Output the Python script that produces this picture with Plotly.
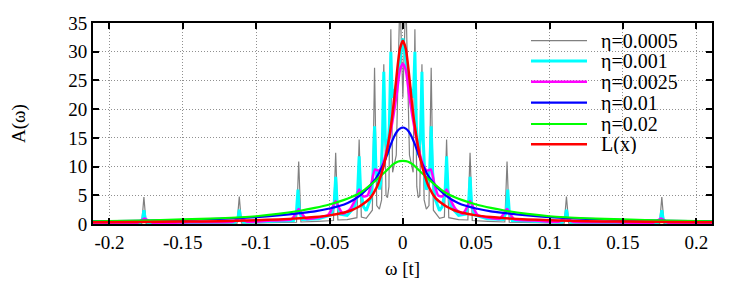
import plotly.graph_objects as go

# spectral function A(w), one array pair per broadening
w_0005 = [-0.2112, -0.178, -0.1765, -0.175, -0.113, -0.1115, -0.110, -0.0725, -0.071, -0.0695,
          -0.058, -0.0473, -0.0458, -0.0443, -0.038, -0.0313, -0.0298, -0.0283, -0.025,
          -0.0208, -0.0193, -0.0178, -0.016, -0.0145, -0.013, -0.0115, -0.0105, -0.0095,
          -0.0082, -0.007, -0.0045, -0.002, 0.0, 0.002, 0.0045, 0.007, 0.0082, 0.0095, 0.0105,
          0.0115, 0.013, 0.0145, 0.016, 0.0178, 0.0193, 0.0208, 0.025, 0.0283, 0.0298, 0.0313,
          0.038, 0.0443, 0.0458, 0.0473, 0.058, 0.0695, 0.071, 0.0725, 0.110, 0.1115, 0.113,
          0.175, 0.1765, 0.178, 0.2107]
A_0005 = [0.05, 0.1, 4.7, 0.1, 0.15, 4.8, 0.15, 0.3, 10.9, 0.35,
          0.45, 0.6, 12.4, 0.7, 0.75, 1.1, 14.7, 1.2, 1.0,
          2.4, 27.2, 3.2, 2.6, 4.2, 27.8, 5.0, 4.6, 6.5,
          33.9, 9.0, 12.0, 40.0, 22.0, 40.0, 12.0, 9.0, 33.9, 6.5, 4.6,
          5.0, 27.8, 4.2, 2.6, 3.2, 27.2, 2.4, 1.0, 1.2, 14.7, 1.1,
          0.75, 0.7, 12.4, 0.6, 0.45, 0.35, 10.9, 0.3, 0.15, 4.8, 0.15,
          0.1, 4.7, 0.1, 0.05]

w_001 = [-0.2112, -0.1795, -0.1775, -0.1765, -0.1755, -0.1735, -0.1145, -0.1125, -0.1115, -0.1105,
         -0.1085, -0.0745, -0.0725, -0.0715, -0.0705, -0.0685, -0.0575, -0.0488, -0.0468, -0.0458,
         -0.0448, -0.0428, -0.038, -0.0328, -0.0308, -0.0298, -0.0288, -0.0268, -0.025, -0.0218,
         -0.0203, -0.0193, -0.0183, -0.0165, -0.016, -0.0152, -0.014, -0.013, -0.012, -0.0105,
         -0.0092, -0.0082, -0.0072, -0.0045, 0.0, 0.0045, 0.0072, 0.0082, 0.0092, 0.0105,
         0.012, 0.013, 0.014, 0.0152, 0.016, 0.0165, 0.0183, 0.0193, 0.0203, 0.0218,
         0.025, 0.0268, 0.0288, 0.0298, 0.0308, 0.0328, 0.038, 0.0428, 0.0448, 0.0458,
         0.0468, 0.0488, 0.0575, 0.0685, 0.0705, 0.0715, 0.0725, 0.0745, 0.1085, 0.1105,
         0.1115, 0.1125, 0.1145, 0.1735, 0.1755, 0.1765, 0.1775, 0.1795, 0.2107]
A_001 = [0.08, 0.15, 0.7, 2.4, 0.7, 0.15, 0.3, 0.9, 2.5, 0.9,
         0.3, 0.6, 2.2, 6.0, 2.2, 0.8, 0.9, 1.6, 3.6, 8.2,
         3.6, 1.7, 1.5, 3.0, 5.8, 11.8, 5.8, 3.0, 2.3, 4.5,
         9.0, 17.0, 9.5, 6.2, 6.0, 7.0, 14.0, 26.5, 15.0, 12.0,
         17.0, 30.0, 22.0, 24.0, 32.3, 24.0, 22.0, 30.0, 17.0, 12.0,
         15.0, 26.5, 14.0, 7.0, 6.0, 6.2, 9.5, 17.0, 9.0, 4.5,
         2.3, 3.0, 5.8, 11.8, 5.8, 3.0, 1.5, 1.7, 3.6, 8.2,
         3.6, 1.6, 0.9, 0.8, 2.2, 6.0, 2.2, 0.6, 0.3, 0.9,
         2.5, 0.9, 0.3, 0.15, 0.7, 2.4, 0.7, 0.15, 0.08]

w_0025 = [-0.2112, -0.181, -0.1785, -0.176, -0.1735, -0.171, -0.145, -0.116, -0.1135, -0.111,
          -0.1085, -0.106, -0.09, -0.076, -0.0735, -0.071, -0.0685, -0.066, -0.056, -0.0508,
          -0.0483, -0.0458, -0.0433, -0.0408, -0.036, -0.0325, -0.0298, -0.027, -0.024, -0.0215,
          -0.019, -0.0165, -0.014, -0.0105, -0.007, -0.004, -0.002, 0.0, 0.002, 0.004,
          0.007, 0.0105, 0.014, 0.0165, 0.019, 0.0215, 0.024, 0.027, 0.0298, 0.0325,
          0.036, 0.0408, 0.0433, 0.0458, 0.0483, 0.0508, 0.056, 0.066, 0.0685, 0.071,
          0.0735, 0.076, 0.09, 0.106, 0.1085, 0.111, 0.1135, 0.116, 0.145, 0.171,
          0.1735, 0.176, 0.1785, 0.181, 0.2107]
A_0025 = [0.15, 0.22, 0.6, 0.95, 0.6, 0.25, 0.3, 0.4, 0.7, 1.05,
          0.7, 0.4, 0.6, 0.8, 1.6, 2.6, 1.7, 0.9, 1.2, 1.6,
          2.7, 4.0, 2.7, 1.8, 2.6, 4.2, 6.0, 4.8, 5.0, 7.0,
          9.5, 9.3, 10.2, 13.3, 18.0, 23.0, 26.8, 27.9, 26.8, 23.0,
          18.0, 13.3, 10.2, 9.3, 9.5, 7.0, 5.0, 4.8, 6.0, 4.2,
          2.6, 1.8, 2.7, 4.0, 2.7, 1.6, 1.2, 0.9, 1.7, 2.6,
          1.6, 0.8, 0.6, 0.4, 0.7, 1.05, 0.7, 0.4, 0.3, 0.25,
          0.6, 0.95, 0.6, 0.22, 0.15]

# smooth curves share one grid
w_smooth = [-0.2112, -0.18, -0.15, -0.125, -0.1, -0.085, -0.07, -0.06, -0.05, -0.04,
            -0.035, -0.03, -0.026, -0.022, -0.018, -0.015, -0.012, -0.01, -0.008, -0.006,
            -0.004, -0.002, 0.0, 0.002, 0.004, 0.006, 0.008, 0.01, 0.012, 0.015,
            0.018, 0.022, 0.026, 0.03, 0.035, 0.04, 0.05, 0.06, 0.07, 0.085,
            0.1, 0.125, 0.15, 0.18, 0.2107]
A_01 = [0.45, 0.55, 0.7, 0.9, 1.2, 1.5, 1.9, 2.2, 2.7, 3.4,
        4.0, 4.8, 5.7, 6.8, 8.1, 9.5, 11.2, 12.6, 14.0, 15.2,
        16.1, 16.6, 16.8, 16.6, 16.1, 15.2, 14.0, 12.6, 11.2, 9.5,
        8.1, 6.8, 5.7, 4.8, 4.0, 3.4, 2.7, 2.2, 1.9, 1.5,
        1.2, 0.9, 0.7, 0.55, 0.45]
A_02 = [0.45, 0.6, 0.8, 1.0, 1.35, 1.75, 2.3, 2.8, 3.4, 4.2,
        4.7, 5.3, 6.0, 6.8, 7.7, 8.4, 9.1, 9.6, 10.1, 10.5,
        10.8, 10.95, 11.0, 10.95, 10.8, 10.5, 10.1, 9.6, 9.1, 8.4,
        7.7, 6.8, 6.0, 5.3, 4.7, 4.2, 3.4, 2.8, 2.3, 1.75,
        1.35, 1.0, 0.8, 0.6, 0.45]
A_L = [0.3, 0.35, 0.42, 0.5, 0.65, 0.8, 1.0, 1.2, 1.5, 2.0,
       2.4, 3.0, 3.7, 4.6, 6.3, 8.4, 11.3, 14.0, 17.3, 21.5,
       26.5, 30.5, 31.9, 30.5, 26.5, 21.5, 17.3, 14.0, 11.3, 8.4,
       6.3, 4.6, 3.7, 3.0, 2.4, 2.0, 1.5, 1.2, 1.0, 0.8,
       0.65, 0.5, 0.42, 0.35, 0.3]

labels = ['η=0.0005', 'η=0.001', 'η=0.0025', 'η=0.01', 'η=0.02', 'L(x)']
colors = ['#808080', '#00ffff', '#ff00ff', '#0000ff', '#00ff00', '#ff0000']
widths = [1.2, 3, 2.5, 2.2, 2.2, 2.5]

series = [(w_0005, A_0005, 'linear'), (w_001, A_001, 'linear'), (w_0025, A_0025, 'spline'),
          (w_smooth, A_01, 'spline'), (w_smooth, A_02, 'spline'), (w_smooth, A_L, 'spline')]

FONT = 'Liberation Serif, Times New Roman, DejaVu Serif, serif'

fig = go.Figure()
for (x, y, shape), name, c, lw in zip(series, labels, colors, widths):
    fig.add_trace(go.Scatter(x=x, y=y, mode='lines', name=name, showlegend=False,
                             line=dict(color=c, width=lw, shape=shape, smoothing=0.6)))

axis_style = dict(showline=True, linewidth=2, linecolor='black', mirror='ticks',
                  ticks='inside', ticklen=6, tickwidth=2, tickcolor='black',
                  showgrid=True, gridcolor='#909090', gridwidth=1, griddash='1px,2px',
                  zeroline=False, tickfont=dict(family=FONT, size=19, color='black'))

fig.update_xaxes(range=[-0.2112, 0.2107], tickvals=[-0.2, -0.15, -0.1, -0.05, 0, 0.05, 0.1, 0.15, 0.2],
                 ticktext=['-0.2', '-0.15', '-0.1', '-0.05', '0', '0.05', '0.1', '0.15', '0.2'],
                 title=dict(text='ω [t]', font=dict(family=FONT, size=19, color='black'), standoff=10),
                 **axis_style)
fig.update_yaxes(range=[0, 35], tickvals=[0, 5, 10, 15, 20, 25, 30, 35],
                 title=dict(text='A(ω)', font=dict(family=FONT, size=19, color='black'), standoff=38),
                 **axis_style)

# hand-made key in the upper right, like gnuplot's
x_px = lambda px: (px - 93) / 619
y_px = lambda py: (224 - py) / 201
shapes = [dict(type='rect', xref='paper', yref='paper', x0=x_px(517), x1=x_px(698),
               y0=y_px(155), y1=1, fillcolor='white', line=dict(width=0), layer='between')]
annotations = []
rows = [40.7, 61, 81.7, 102.7, 124, 144.3]
for r, name, c, lw in zip(rows, labels, colors, widths):
    shapes.append(dict(type='line', xref='paper', yref='paper', x0=x_px(531), x1=x_px(587),
                       y0=y_px(r), y1=y_px(r), line=dict(color=c, width=lw)))
    annotations.append(dict(xref='paper', yref='paper', x=x_px(599), y=y_px(r), text=name,
                            showarrow=False, xanchor='left', yanchor='middle', height=20,
                            font=dict(family=FONT, size=20, color='black')))

fig.update_layout(width=747, height=287, margin=dict(l=93, r=35, t=23, b=63),
                  plot_bgcolor='white', paper_bgcolor='white',
                  shapes=shapes, annotations=annotations)

fig.write_html('out.html', config={'displayModeBar': False},
               post_script="document.body.style.margin='0';")
